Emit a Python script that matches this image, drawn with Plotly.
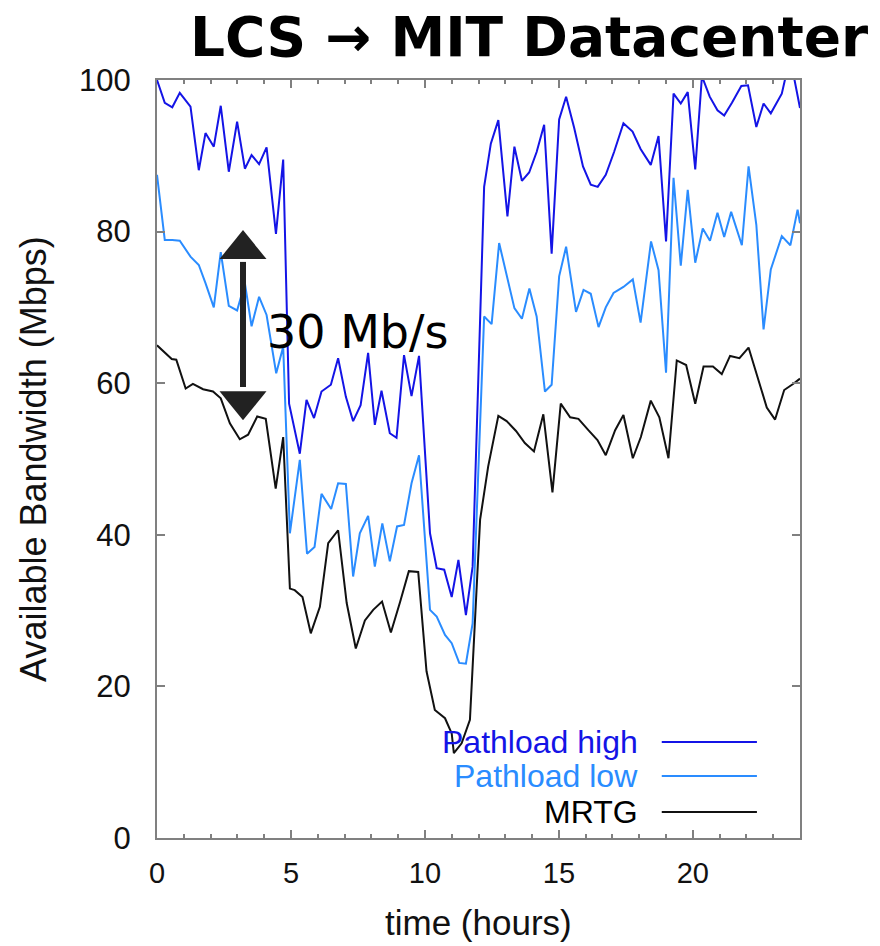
import plotly.graph_objects as go

# ---- data ----
t_high = [0.0, 0.29, 0.57, 0.85, 1.25, 1.56, 1.81, 2.12, 2.38, 2.68, 2.99, 3.28, 3.53, 3.81, 4.09,
          4.44, 4.71, 4.93, 5.33, 5.58, 5.86, 6.14, 6.49, 6.76, 7.05, 7.32, 7.60, 7.88, 8.13, 8.38,
          8.69, 8.94, 9.22, 9.50, 9.78, 10.19, 10.44, 10.72, 11.00, 11.25, 11.53, 11.78, 12.21, 12.46,
          12.74, 13.08, 13.34, 13.62, 13.89, 14.17, 14.45, 14.73, 15.01, 15.27, 15.57, 15.90, 16.19,
          16.45, 16.75, 17.06, 17.41, 17.75, 18.05, 18.43, 18.72, 19.00, 19.28, 19.55, 19.81, 20.09,
          20.34, 20.63, 20.92, 21.17, 21.46, 21.81, 22.06, 22.37, 22.64, 22.91, 23.32, 23.63, 24.0]
v_high = [100, 97.0, 96.4, 98.3, 96.5, 88.1, 93.0, 91.2, 96.6, 87.9, 94.5, 88.3, 90.1, 88.9, 91.1,
          79.7, 89.5, 57.3, 50.7, 57.8, 55.4, 58.9, 59.8, 63.3, 58.2, 55.0, 57.1, 64.0, 54.5, 59.0,
          53.4, 52.8, 63.7, 58.3, 63.6, 40.2, 35.6, 35.4, 31.8, 36.7, 29.4, 35.8, 85.9, 91.6,
          94.7, 82.0, 91.2, 86.7, 87.8, 90.5, 94.1, 77.1, 94.8, 97.8, 93.7, 88.6, 86.2,
          85.9, 87.5, 90.5, 94.3, 93.2, 90.9, 88.8, 92.6, 78.7, 98.2, 96.9, 98.4, 88.2,
          100.5, 97.8, 96.0, 95.3, 97.0, 99.2, 99.3, 93.8, 96.9, 95.6, 98.2, 103, 96.3]

t_low = [0.0, 0.29, 0.57, 0.85, 1.25, 1.56, 1.81, 2.12, 2.38, 2.68, 2.99, 3.28, 3.53, 3.81, 4.09,
         4.45, 4.71, 4.96, 5.33, 5.60, 5.88, 6.14, 6.50, 6.76, 7.05, 7.32, 7.57, 7.88, 8.13, 8.41,
         8.69, 8.96, 9.22, 9.50, 9.78, 10.19, 10.44, 10.75, 11.00, 11.28, 11.53, 11.78, 12.21, 12.49,
         12.77, 13.05, 13.34, 13.62, 13.90, 14.17, 14.48, 14.73, 15.01, 15.27, 15.64, 15.92, 16.19,
         16.48, 16.75, 17.04, 17.41, 17.76, 18.05, 18.44, 18.72, 19.00, 19.28, 19.55, 19.81, 20.09,
         20.37, 20.64, 20.92, 21.17, 21.43, 21.83, 22.08, 22.37, 22.64, 22.91, 23.32, 23.64, 23.91, 24.0]
v_low = [87.5, 78.9, 78.9, 78.8, 76.7, 75.6, 73.2, 70.0, 77.3, 70.2, 69.6, 73.2, 67.5, 71.4, 69.0,
         61.3, 64.8, 40.2, 49.9, 37.5, 38.4, 45.4, 43.4, 46.8, 46.7, 34.5, 40.2, 42.5, 35.8, 41.5,
         36.5, 41.1, 41.3, 46.8, 50.5, 30.1, 29.2, 26.8, 25.7, 23.1, 23.0, 28.3, 68.8, 67.8,
         78.5, 74.3, 69.9, 68.5, 72.5, 68.8, 58.9, 59.8, 74.1, 78.0, 69.4, 72.3, 71.8,
         67.4, 70.0, 71.9, 72.7, 73.7, 68.0, 78.7, 74.9, 61.4, 87.1, 75.5, 85.5, 75.9,
         80.4, 78.8, 82.5, 79.3, 82.6, 78.2, 88.6, 80.9, 67.1, 75.0, 79.4, 78.2, 82.9, 81.1]

t_mrtg = [0.0, 0.29, 0.55, 0.72, 1.07, 1.34, 1.72, 2.09, 2.38, 2.72, 3.09, 3.40, 3.74, 4.06, 4.43,
          4.71, 4.96, 5.14, 5.43, 5.74, 6.08, 6.39, 6.76, 7.08, 7.42, 7.76, 8.07, 8.40, 8.73, 9.07,
          9.40, 9.75, 10.06, 10.37, 10.75, 11.00, 11.08, 11.37, 11.68, 12.06, 12.36, 12.74, 13.05,
          13.40, 13.73, 14.07, 14.42, 14.76, 15.07, 15.42, 15.73, 16.10, 16.44, 16.75, 17.10, 17.41,
          17.76, 18.06, 18.43, 18.75, 19.09, 19.40, 19.75, 20.09, 20.40, 20.75, 21.08, 21.39, 21.74,
          22.08, 22.42, 22.76, 23.07, 23.41, 23.74, 24.0]
v_mrtg = [65.0, 64.0, 63.2, 63.1, 59.3, 59.9, 59.2, 58.9, 58.0, 54.7, 52.6, 53.2, 55.6, 55.3, 46.1,
          52.9, 32.9, 32.7, 31.8, 27.0, 30.5, 38.9, 40.6, 31.0, 25.0, 28.7, 30.1, 31.2, 27.1, 31.1,
          35.2, 35.1, 22.0, 16.9, 15.8, 13.8, 11.2, 12.5, 15.6, 42.0, 49.0, 55.7, 55.0,
          53.7, 52.1, 51.0, 55.9, 45.6, 57.3, 55.5, 55.3, 53.8, 52.5, 50.5, 53.8, 55.8,
          50.1, 52.9, 57.7, 55.5, 50.1, 63.0, 62.4, 57.3, 62.2, 62.2, 61.2, 63.6, 63.3,
          64.7, 60.7, 56.8, 55.2, 59.1, 59.9, 60.6]

series_names = ["Pathload high", "Pathload low", "MRTG"]
series_colors = ["#1414e6", "#2a8cff", "#111111"]
legend_text_colors = ["#1414e6", "#2a8cff", "#000000"]
x_ticks = [0, 5, 10, 15, 20]
y_ticks = [0, 20, 40, 60, 80, 100]

fig = go.Figure()
for name, tx, vy, col in zip(series_names, [t_high, t_low, t_mrtg], [v_high, v_low, v_mrtg], series_colors):
    fig.add_trace(go.Scatter(x=tx, y=vy, mode="lines", name=name,
                             line=dict(color=col, width=2), showlegend=False))

axis_col = "#808080"
sans = "Liberation Sans, Arial, sans-serif"

fig.update_xaxes(range=[0, 24], tickvals=x_ticks, ticks="inside", ticklen=8, tickwidth=1.5,
                 tickcolor=axis_col, showline=True, linecolor=axis_col, linewidth=2,
                 mirror="allticks", showgrid=False, zeroline=False,
                 tickfont=dict(family=sans, size=29, color="#111"),
                 ticklabelstandoff=8,
                 minor=dict(dtick=1, ticks="inside", ticklen=4, tickcolor=axis_col, showgrid=False))
fig.update_yaxes(range=[0, 100], tickvals=y_ticks, ticks="inside", ticklen=8, tickwidth=1.5,
                 tickcolor=axis_col, showline=True, linecolor=axis_col, linewidth=2,
                 mirror="allticks", showgrid=False, zeroline=False,
                 tickfont=dict(family=sans, size=31, color="#111"),
                 ticklabelstandoff=18)

annotations = [
    dict(text="<b>LCS \u2192 MIT Datacenter</b>", xref="paper", yref="paper", x=0.578, y=1.057,
         showarrow=False, font=dict(family="DejaVu Sans, sans-serif", size=55, color="#000"),
         xanchor="center", yanchor="middle"),
    dict(text="time (hours)", xref="paper", yref="paper", x=0.5, y=-0.111, showarrow=False,
         font=dict(family=sans, size=35, color="#111"),
         xanchor="center", yanchor="middle"),
    dict(text="Available Bandwidth (Mbps)", xref="paper", yref="paper", x=-0.193, y=0.5,
         textangle=-90, showarrow=False,
         font=dict(family=sans, size=36, color="#111"),
         xanchor="center", yanchor="middle"),
    dict(text="30 Mb/s", xref="x", yref="y", x=4.02, y=66.8, showarrow=False,
         font=dict(family="DejaVu Sans, sans-serif", size=46, color="#000"),
         xanchor="left", yanchor="middle"),
]

# manual legend (text on the left, line sample on the right)
legend_y = [0.1266, 0.0818, 0.0343]
for name, col, ly in zip(series_names, legend_text_colors, legend_y):
    annotations.append(dict(text=name, xref="paper", yref="paper", x=0.751, y=ly, showarrow=False,
                            xanchor="right", yanchor="middle",
                            font=dict(family=sans, size=32, color=col)))

shapes = []
for col, ly in zip(series_colors, legend_y):
    shapes.append(dict(type="line", xref="paper", yref="paper", x0=0.785, x1=0.933, y0=ly, y1=ly,
                       line=dict(color=col, width=2)))

# double-headed "30 Mb/s" arrow
arrow_x = 3.21
shapes.append(dict(type="line", xref="x", yref="y", x0=arrow_x, x1=arrow_x, y0=59.5, y1=76.0,
                   line=dict(color="#222", width=6)))
shapes.append(dict(type="path", xref="x", yref="y", xsizemode="pixel", ysizemode="pixel",
                   xanchor=arrow_x, yanchor=80.2, path="M -23.5 -29 L 23.5 -29 L 0 0 Z",
                   fillcolor="#222", line=dict(width=0)))
shapes.append(dict(type="path", xref="x", yref="y", xsizemode="pixel", ysizemode="pixel",
                   xanchor=arrow_x, yanchor=55.1, path="M -23.5 29 L 23.5 29 L 0 0 Z",
                   fillcolor="#222", line=dict(width=0)))

fig.update_layout(width=880, height=946, margin=dict(l=157, r=80, t=80, b=108),
                  paper_bgcolor="white", plot_bgcolor="white",
                  annotations=annotations, shapes=shapes, showlegend=False)

fig.write_html("out.html")
